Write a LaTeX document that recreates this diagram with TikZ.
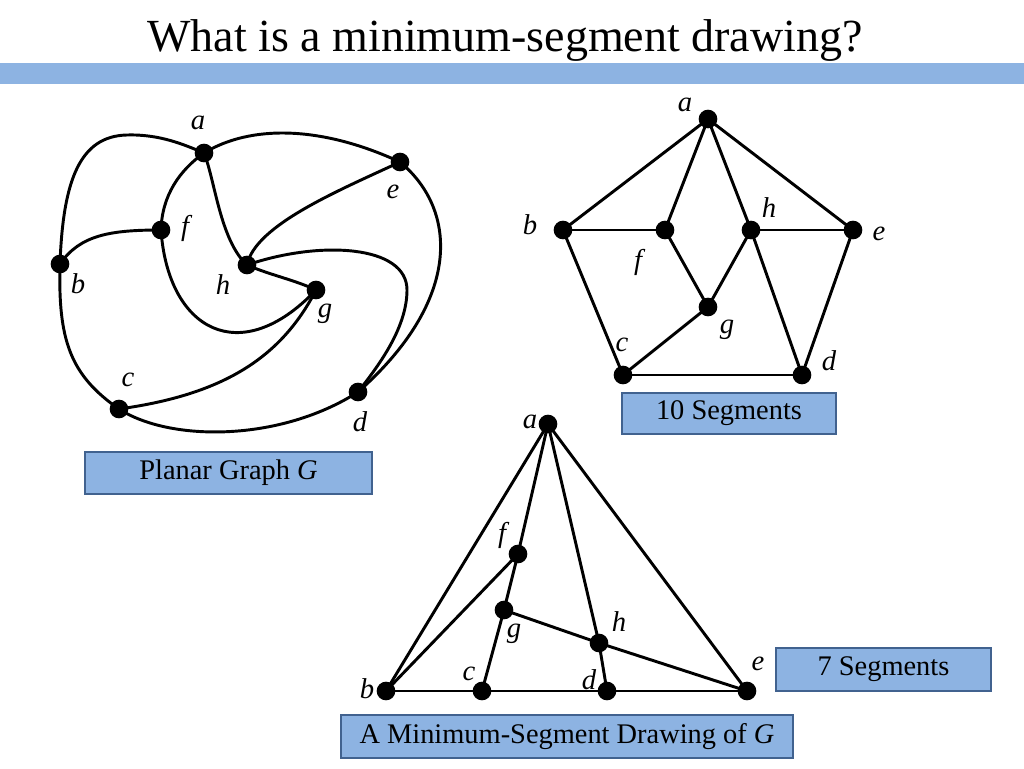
\documentclass[tikz,border=0pt]{standalone}
\usepackage{fontspec}
\setmainfont{Liberation Serif}
\definecolor{barblue}{HTML}{8DB3E2}
\definecolor{boxedge}{HTML}{41628F}
\begin{document}
\begin{tikzpicture}[x=0.75pt,y=-0.75pt,
 dot/.style={circle,fill=black,inner sep=0pt,minimum size=14pt},
 edge/.style={line width=2.2pt,line join=round},
 lbl/.style={font=\fontsize{21.5}{21.5}\selectfont\itshape,inner sep=0pt},
 capbox/.style={draw=boxedge,fill=barblue,line width=1pt,inner sep=0pt,font=\fontsize{21.3}{25}\selectfont},
]
\useasboundingbox[fill=white] (0,0) rectangle (1024,768);
\fill[barblue] (0,63) rectangle (1024,84);
\node[anchor=base,font=\fontsize{34.5}{40}\selectfont,inner sep=0pt] (title) at (505,51) {What is a minimum-segment drawing?};

% ---------- left graph ----------
\node[dot] (La) at (204,153) {};
\node[dot] (Le) at (400,162) {};
\node[dot] (Lf) at (161,230) {};
\node[dot] (Lb) at (60,264) {};
\node[dot] (Lh) at (247,265) {};
\node[dot] (Lg) at (316,290) {};
\node[dot] (Lc) at (119,409) {};
\node[dot] (Ld) at (358,392) {};
\draw[edge] (Lb.center) .. controls (63,180) and (80,136) .. (127,135) .. controls (160,134) and (185,145) .. (La.center);
\draw[edge] (La.center) .. controls (250,125) and (320,125) .. (Le.center);
\draw[edge] (La.center) .. controls (180,170) and (162,195) .. (Lf.center);
\draw[edge] (La.center) .. controls (215,180) and (220,240) .. (Lh.center);
\draw[edge] (Lb.center) .. controls (80,235) and (110,230) .. (Lf.center);
\draw[edge] (Lf.center) .. controls (168,330) and (240,370) .. (Lg.center);
\draw[edge] (Lh.center) .. controls (255,225) and (340,190) .. (Le.center);
\draw[edge] (Lh.center) .. controls (270,275) and (295,280) .. (Lg.center);
\draw[edge] (Lh.center) .. controls (320,240) and (407,245) .. (407,290) .. controls (407,330) and (375,370) .. (Ld.center);
\draw[edge] (Le.center) .. controls (458,210) and (462,300) .. (Ld.center);
\draw[edge] (Lb.center) .. controls (58,340) and (70,375) .. (Lc.center);
\draw[edge] (Lc.center) .. controls (220,395) and (280,360) .. (Lg.center);
\draw[edge] (Lc.center) .. controls (170,442) and (280,442) .. (Ld.center);
\node[lbl] (tLa) at (198,123) {a};
\node[lbl] (tLe) at (393,192) {e};
\node[lbl] (tLf) at (185,228) {f};
\node[lbl] (tLb) at (78,284) {b};
\node[lbl] (tLh) at (223,285) {h};
\node[lbl] (tLg) at (325,314) {g};
\node[lbl] (tLc) at (128,380) {c};
\node[lbl] (tLd) at (360,422) {d};
\node[capbox,minimum width=287*0.75pt,minimum height=42*0.75pt] (box1) at (228.5,473) {Planar Graph \textit{G}};

% ---------- right graph ----------
\node[dot] (Ra) at (708,119) {};
\node[dot] (Rb) at (563,230) {};
\node[dot] (Rf) at (665,230) {};
\node[dot] (Rh) at (751,230) {};
\node[dot] (Re) at (853,230) {};
\node[dot] (Rg) at (708,307) {};
\node[dot] (Rc) at (623,375) {};
\node[dot] (Rd) at (802,375) {};
\draw[edge] (Ra.center) -- (Rb.center);
\draw[edge] (Ra.center) -- (Rf.center);
\draw[edge] (Ra.center) -- (Rh.center);
\draw[edge] (Ra.center) -- (Re.center);
\draw[edge] (Rb.center) -- (Rf.center);
\draw[edge] (Rb.center) -- (Rc.center);
\draw[edge] (Rf.center) -- (Rg.center);
\draw[edge] (Rh.center) -- (Rg.center);
\draw[edge] (Rh.center) -- (Re.center);
\draw[edge] (Rh.center) -- (Rd.center);
\draw[edge] (Re.center) -- (Rd.center);
\draw[edge] (Rc.center) -- (Rg.center);
\draw[edge] (Rc.center) -- (Rd.center);
\node[lbl] (tRa) at (685,105) {a};
\node[lbl] (tRb) at (530,225) {b};
\node[lbl] (tRf) at (638,262) {f};
\node[lbl] (tRh) at (769,208) {h};
\node[lbl] (tRe) at (879,234) {e};
\node[lbl] (tRg) at (727,330) {g};
\node[lbl] (tRc) at (622,345) {c};
\node[lbl] (tRd) at (829,361) {d};
\node[capbox,minimum width=214*0.75pt,minimum height=41*0.75pt] (box2) at (729,413.5) {10 Segments};

% ---------- bottom graph ----------
\node[dot] (Ba) at (548,424) {};
\node[dot] (Bf) at (518,554) {};
\node[dot] (Bg) at (504,610) {};
\node[dot] (Bh) at (599,643) {};
\node[dot] (Bb) at (386,691) {};
\node[dot] (Bc) at (482,691) {};
\node[dot] (Bd) at (607,691) {};
\node[dot] (Be) at (747,691) {};
\draw[edge] (Ba.center) -- (Bb.center);
\draw[edge] (Ba.center) -- (Bf.center) -- (Bg.center) -- (Bc.center);
\draw[edge] (Ba.center) -- (Bh.center) -- (Bd.center);
\draw[edge] (Ba.center) -- (Be.center);
\draw[edge] (Bb.center) -- (Bf.center);
\draw[edge] (Bb.center) -- (Bc.center) -- (Bd.center) -- (Be.center);
\draw[edge] (Bg.center) -- (Bh.center) -- (Be.center);
\node[lbl] (tBa) at (530,422) {a};
\node[lbl] (tBf) at (502,535) {f};
\node[lbl] (tBg) at (514,634) {g};
\node[lbl] (tBh) at (619,622) {h};
\node[lbl] (tBb) at (367,689) {b};
\node[lbl] (tBc) at (469,674) {c};
\node[lbl] (tBd) at (589,680) {d};
\node[lbl] (tBe) at (758,664) {e};
\node[capbox,minimum width=215*0.75pt,minimum height=43*0.75pt] (box3) at (883.5,669.5) {7 Segments};
\node[capbox,minimum width=452*0.75pt,minimum height=43*0.75pt] (box4) at (567,736.5) {A Minimum-Segment Drawing of \textit{G}};
\end{tikzpicture}
\end{document}
